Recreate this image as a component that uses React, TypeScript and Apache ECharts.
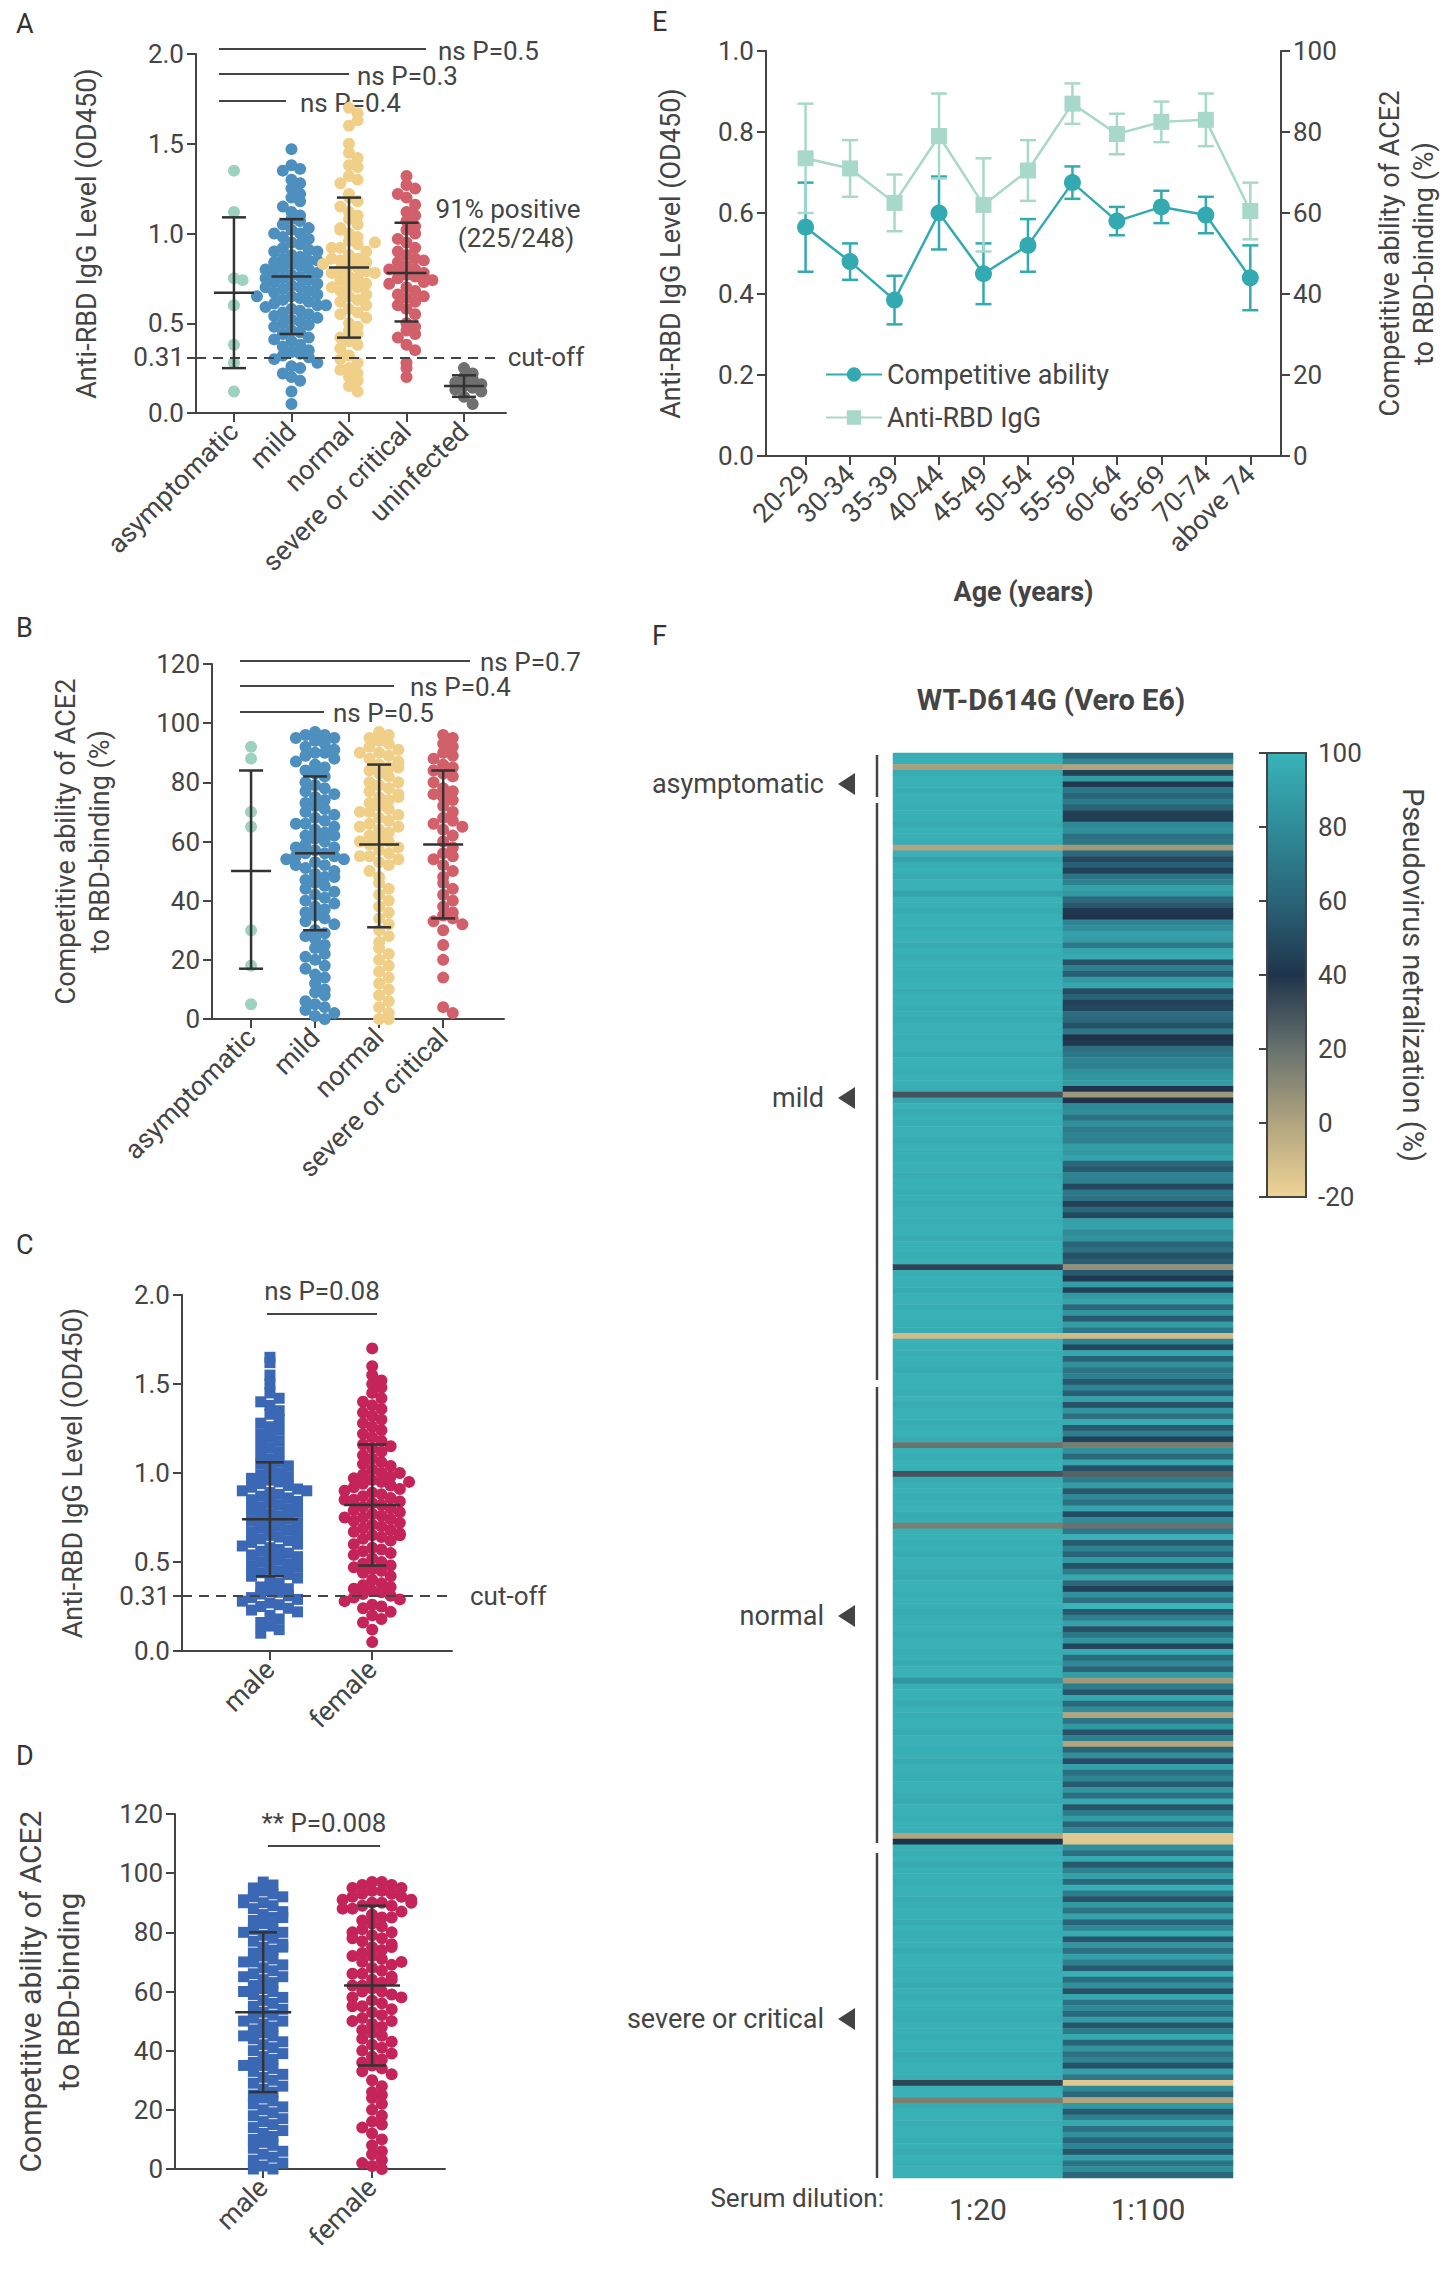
import React, { useEffect, useRef } from "react";
import * as echarts from "echarts";

// ---------- Panel A (Anti-RBD IgG, OD450) ----------
const groupsA = ["asymptomatic", "mild", "normal", "severe or critical", "uninfected"];
const colorsA = ["#9dd1c0", "#4d8fbf", "#f0cf88", "#d2606b", "#6f6f6f"];
const A_asym = [1.35, 1.12, 0.75, 0.74, 0.6, 0.38, 0.28, 0.12];
const A_mild = [1.47, 1.38, 1.36, 1.35, 1.3, 1.28, 1.25, 1.22, 1.2, 1.18, 1.15, 1.12, 1.1, 1.08, 1.07, 1.05, 1.03, 1.02, 1.0, 0.98, 0.97, 0.95, 0.94, 0.92, 0.91, 0.9, 0.88, 0.87, 0.86, 0.85, 0.84, 0.83, 0.82, 0.81, 0.8, 0.79, 0.78, 0.77, 0.76, 0.75, 0.74, 0.73, 0.72, 0.71, 0.7, 0.69, 0.68, 0.67, 0.66, 0.65, 0.64, 0.63, 0.62, 0.61, 0.6, 0.59, 0.58, 0.57, 0.56, 0.55, 0.54, 0.53, 0.52, 0.51, 0.5, 0.49, 0.48, 0.46, 0.45, 0.44, 0.42, 0.41, 0.4, 0.38, 0.37, 0.35, 0.34, 0.33, 0.32, 0.31, 0.3, 0.28, 0.26, 0.25, 0.22, 0.2, 0.18, 0.12, 0.05, 0.9, 0.8, 0.7, 0.6, 1.0, 0.85, 0.75, 0.65];
const A_normal = [1.7, 1.67, 1.6, 1.63, 1.5, 1.45, 1.42, 1.38, 1.37, 1.32, 1.3, 1.28, 1.22, 1.2, 1.18, 1.15, 1.12, 1.1, 1.08, 1.05, 1.03, 1.0, 0.98, 0.96, 0.94, 0.92, 0.9, 0.88, 0.86, 0.85, 0.84, 0.82, 0.81, 0.8, 0.79, 0.78, 0.76, 0.75, 0.74, 0.72, 0.71, 0.7, 0.68, 0.66, 0.65, 0.63, 0.62, 0.6, 0.58, 0.56, 0.55, 0.53, 0.5, 0.48, 0.46, 0.44, 0.42, 0.4, 0.38, 0.36, 0.32, 0.28, 0.25, 0.22, 0.2, 0.18, 0.15, 0.12, 0.92, 0.86, 0.78, 0.7, 0.95, 0.83, 1.02, 0.3, 0.24];
const A_severe = [1.32, 1.27, 1.25, 1.22, 1.2, 1.16, 1.12, 1.1, 1.07, 1.04, 1.02, 1.0, 0.97, 0.95, 0.92, 0.9, 0.88, 0.86, 0.84, 0.82, 0.8, 0.79, 0.78, 0.77, 0.76, 0.75, 0.73, 0.72, 0.7, 0.68, 0.66, 0.64, 0.62, 0.6, 0.58, 0.55, 0.5, 0.48, 0.46, 0.44, 0.42, 0.38, 0.35, 0.28, 0.25, 0.2, 0.85, 0.8, 0.74, 0.65];
const A_uninf = [0.25, 0.22, 0.2, 0.19, 0.17, 0.16, 0.15, 0.14, 0.13, 0.12, 0.09, 0.05];
const A_stats = [[0.67, 0.25, 1.09], [0.76, 0.44, 1.08], [0.81, 0.42, 1.2], [0.78, 0.51, 1.06], [0.15, 0.09, 0.21]];

// ---------- Panel B (competitive ability, %) ----------
const groupsB = ["asymptomatic", "mild", "normal", "severe or critical"];
const B_asym = [92, 88, 70, 65, 30, 18, 5];
const B_mild = [97, 96, 96, 95, 95, 94, 93, 92, 91, 90, 90, 89, 88, 87, 86, 85, 84, 83, 82, 80, 79, 78, 77, 76, 75, 74, 73, 72, 71, 70, 69, 68, 67, 66, 65, 64, 63, 62, 61, 60, 59, 58, 57, 56, 56, 55, 55, 54, 54, 53, 52, 51, 50, 49, 48, 47, 46, 45, 44, 43, 42, 41, 40, 39, 38, 37, 36, 35, 34, 33, 32, 30, 29, 28, 27, 25, 24, 22, 21, 20, 18, 17, 15, 14, 12, 10, 9, 8, 6, 5, 4, 3, 2, 1, 0, 58, 52, 48, 62, 66];
const B_normal = [97, 96, 95, 94, 93, 92, 91, 90, 89, 88, 87, 86, 85, 84, 83, 82, 80, 79, 78, 77, 76, 75, 74, 73, 72, 71, 70, 69, 68, 67, 66, 65, 64, 63, 62, 61, 60, 59, 58, 57, 56, 55, 54, 53, 52, 50, 48, 46, 44, 42, 40, 38, 36, 34, 32, 30, 28, 26, 24, 22, 20, 18, 16, 14, 12, 10, 8, 6, 4, 2, 0, 0, 70, 65, 60, 55, 75, 80, 85, 90];
const B_severe = [96, 95, 93, 92, 90, 89, 88, 86, 85, 84, 83, 82, 80, 78, 77, 76, 75, 74, 72, 70, 68, 67, 66, 65, 64, 62, 60, 58, 56, 55, 54, 52, 50, 48, 46, 44, 42, 40, 38, 36, 35, 34, 33, 32, 30, 25, 20, 14, 4, 2];
const B_stats = [[50, 17, 84], [56, 30, 82], [59, 31, 86], [59, 34, 84]];

// ---------- Panels C and D (sex) ----------
const sexes = ["male", "female"];
const sexColors = ["#3b68b5", "#c42459"];
const C_male = [1.65, 1.62, 1.55, 1.5, 1.45, 1.42, 1.4, 1.38, 1.35, 1.33, 1.3, 1.28, 1.26, 1.24, 1.22, 1.2, 1.18, 1.16, 1.14, 1.12, 1.1, 1.08, 1.06, 1.05, 1.04, 1.02, 1.0, 0.99, 0.98, 0.97, 0.96, 0.95, 0.94, 0.93, 0.92, 0.91, 0.9, 0.89, 0.88, 0.87, 0.86, 0.85, 0.84, 0.83, 0.82, 0.81, 0.8, 0.79, 0.78, 0.77, 0.76, 0.75, 0.74, 0.73, 0.72, 0.71, 0.7, 0.69, 0.68, 0.67, 0.66, 0.65, 0.64, 0.63, 0.62, 0.61, 0.6, 0.59, 0.58, 0.57, 0.56, 0.55, 0.54, 0.53, 0.52, 0.51, 0.5, 0.49, 0.48, 0.47, 0.46, 0.45, 0.44, 0.43, 0.42, 0.41, 0.4, 0.38, 0.36, 0.35, 0.34, 0.33, 0.32, 0.31, 0.3, 0.29, 0.28, 0.27, 0.26, 0.25, 0.24, 0.23, 0.22, 0.2, 0.18, 0.16, 0.14, 0.12, 0.1, 0.9];
const C_female = [1.7, 1.6, 1.55, 1.52, 1.5, 1.48, 1.45, 1.42, 1.4, 1.38, 1.36, 1.34, 1.32, 1.3, 1.28, 1.26, 1.24, 1.22, 1.2, 1.18, 1.16, 1.15, 1.14, 1.12, 1.1, 1.08, 1.06, 1.05, 1.04, 1.02, 1.0, 0.99, 0.98, 0.97, 0.96, 0.95, 0.94, 0.93, 0.92, 0.91, 0.9, 0.89, 0.88, 0.87, 0.86, 0.85, 0.84, 0.83, 0.82, 0.81, 0.8, 0.79, 0.78, 0.77, 0.76, 0.75, 0.74, 0.73, 0.72, 0.71, 0.7, 0.69, 0.68, 0.67, 0.66, 0.65, 0.64, 0.63, 0.62, 0.6, 0.58, 0.57, 0.56, 0.55, 0.54, 0.52, 0.5, 0.49, 0.48, 0.47, 0.46, 0.45, 0.44, 0.42, 0.4, 0.38, 0.37, 0.36, 0.35, 0.34, 0.33, 0.32, 0.31, 0.3, 0.29, 0.28, 0.26, 0.25, 0.24, 0.22, 0.2, 0.18, 0.16, 0.12, 0.05, 0.95, 0.85, 0.75, 0.65, 1.0];
const C_stats = [[0.74, 0.42, 1.06], [0.82, 0.48, 1.16]];
const D_male = [97, 96, 95, 94, 93, 92, 92, 91, 90, 89, 88, 87, 86, 85, 84, 83, 82, 81, 80, 79, 78, 77, 76, 75, 74, 73, 72, 71, 70, 69, 68, 67, 66, 65, 64, 63, 62, 61, 60, 59, 58, 57, 56, 55, 54, 53, 52, 51, 50, 49, 48, 47, 46, 45, 44, 43, 42, 41, 40, 39, 38, 37, 36, 35, 34, 33, 32, 31, 30, 29, 28, 27, 26, 25, 24, 23, 22, 21, 20, 19, 18, 17, 16, 15, 14, 13, 12, 11, 10, 9, 8, 7, 6, 5, 4, 3, 2, 1, 0, 0, 90, 85, 80, 75, 70, 65, 60, 50, 45, 35];
const D_female = [97, 97, 96, 96, 95, 95, 94, 94, 93, 93, 92, 92, 91, 91, 90, 90, 89, 89, 88, 87, 86, 85, 84, 83, 82, 81, 80, 79, 78, 77, 76, 75, 74, 73, 72, 71, 70, 69, 68, 67, 66, 65, 64, 63, 62, 61, 60, 60, 59, 58, 57, 56, 55, 54, 53, 52, 51, 50, 49, 48, 47, 46, 45, 44, 43, 42, 41, 40, 39, 38, 37, 36, 35, 34, 33, 32, 30, 28, 26, 25, 24, 22, 20, 18, 16, 15, 14, 12, 10, 8, 6, 5, 3, 2, 1, 0, 88, 85, 80, 78, 75, 72, 70, 66, 64, 62, 58, 55, 50, 90];
const D_stats = [[53, 26, 80], [62, 35, 89]];

// ---------- Panel E (age) ----------
const ages = ["20-29", "30-34", "35-39", "40-44", "45-49", "50-54", "55-59", "60-64", "65-69", "70-74", "above 74"];
const compMean = [56.5, 48, 38.5, 60, 45, 52, 67.5, 58, 61.5, 59.5, 44];
const compErr = [11, 4.5, 6, 9, 7.5, 6.5, 4, 3.5, 4, 4.5, 8];
const igMean = [0.735, 0.71, 0.625, 0.79, 0.62, 0.705, 0.87, 0.795, 0.825, 0.83, 0.605];
const igErr = [0.135, 0.07, 0.07, 0.105, 0.115, 0.075, 0.05, 0.05, 0.05, 0.065, 0.07];

// ---------- Panel F (heatmap) ----------
const dilutions = ["1:20", "1:100"];
const f_asym_20 = [97, 98, 2, 96, 99, 98, 97, 99];
const f_asym_100 = [62, 78, 0, 45, 88, 42, 70, 60];
const f_mild_20 = [98, 97, 99, 98, 96, 99, 98, 97, 0, 98, 92, 97, 98, 96, 99, 98, 92, 99, 98, 96, 98, 99, 97, 98, 99, 96, 98, 97, 99, 98, 97, 98, 99, 96, 98, 99, 97, 98, 96, 99, 98, 97, 99, 98, 96, 99, 98, 97, 99, 98, 97, 30, 92, 99, 96, 98, 97, 99, 98, 96, 99, 98, 97, 99, 98, 96, 98, 99, 97, 98, 96, 99, 98, 97, 99, 98, 96, 98, 99, 97, 98, 35, 97, 99, 98, 96, 99, 98, 97, 99, 98, 97, 96, -10, 99, 98, 97, 99, 98, 96, 99, 98];
const f_mild_100 = [72, 60, 45, 44, 78, 82, 66, 70, 5, 62, 48, 58, 46, 68, 75, 90, 86, 62, 55, 42, 40, 76, 80, 90, 88, 70, 92, 95, 52, 74, 58, 86, 94, 50, 60, 45, 48, 64, 62, 52, 70, 40, 42, 66, 70, 76, 74, 82, 85, 88, 40, 5, 40, 78, 80, 66, 82, 72, 76, 74, 88, 86, 92, 62, 56, 76, 74, 48, 70, 66, 45, 62, 48, 90, 92, 80, 84, 60, 66, 52, 58, 8, 55, 42, 88, 46, 86, 92, 62, 84, 56, 88, 70, -10, 76, 48, 94, 60, 82, 68, 74, 56];
const f_normal_20 = [98, 97, 99, 96, 98, 99, 97, 98, 99, 96, 20, 98, 97, 99, 98, 30, 96, 98, 99, 97, 98, 99, 96, 97, 15, 98, 99, 97, 98, 96, 99, 98, 97, 96, 99, 98, 97, 99, 98, 96, 97, 98, 99, 96, 98, 99, 97, 98, 96, 99, 98, 85, 97, 99, 98, 96, 99, 97, 98, 99, 96, 98, 99, 97, 98, 96, 99, 98, 97, 99, 98, 97, 96, 99, 98, 97, 99, 98, 0, 40];
const f_normal_100 = [76, 58, 90, 52, 84, 66, 96, 56, 74, 46, 15, 82, 62, 94, 52, 25, 72, 88, 54, 78, 66, 92, 50, 80, 20, 70, 98, 56, 75, 60, 86, 52, 72, 95, 62, 46, 82, 66, 100, 56, 74, 90, 52, 70, 84, 48, 96, 64, 78, 60, 88, 5, 72, 54, 94, 62, 80, 0, 68, 86, 52, 74, 0, 60, 82, 50, 90, 66, 76, 56, 84, 66, 95, 54, 72, 88, 60, 78, -15, -15];
const f_severe_20 = [98, 97, 99, 96, 98, 99, 97, 98, 99, 96, 97, 99, 98, 96, 99, 97, 98, 99, 96, 98, 99, 98, 97, 99, 96, 98, 97, 99, 98, 97, 96, 99, 98, 97, 99, 98, 96, 97, 99, 98, 97, 35, 98, 99, 15, 96, 98, 99, 97, 98, 99, 97, 98, 96, 99, 97, 98, 99];
const f_severe_100 = [82, 65, 95, 56, 74, 90, 62, 98, 72, 52, 86, 68, 92, 60, 78, 96, 54, 84, 66, 90, 74, 56, 98, 64, 82, 52, 94, 68, 78, 62, 88, 54, 72, 95, 60, 84, 66, 76, 52, 90, 70, -15, 78, 62, 0, 86, 56, 74, 94, 66, 82, 60, 76, 54, 90, 68, 80, 62];
const cbarColors = ["#efd495", "#b1a47f", "#68726e", "#1f344b", "#2a6478", "#2f8c98", "#3ab3b9"];

const FONT = "Roboto";
const TXT = "#444";
const AX = "#444";

function swarm(vals: number[], cx: number, bin: number, d: number) {
  const cnt: Record<number, number> = {};
  return vals.map((v) => {
    const k = Math.round(v / bin);
    const n = cnt[k] || 0;
    cnt[k] = n + 1;
    const off = n === 0 ? 0 : (n % 2 ? 1 : -1) * Math.ceil(n / 2);
    return [cx + off * d, v];
  });
}

function errItem(capHalf: number, meanHalf: number, color: string) {
  return (params: any, api: any) => {
    const x = api.value(0);
    const m = api.coord([x, api.value(1)]);
    const lo = api.coord([x, api.value(2)]);
    const hi = api.coord([x, api.value(3)]);
    const st = { stroke: color, lineWidth: 2.5 };
    const ch: any[] = [
      { type: "line", shape: { x1: lo[0], y1: lo[1], x2: hi[0], y2: hi[1] }, style: st },
      { type: "line", shape: { x1: lo[0] - capHalf, y1: lo[1], x2: lo[0] + capHalf, y2: lo[1] }, style: st },
      { type: "line", shape: { x1: hi[0] - capHalf, y1: hi[1], x2: hi[0] + capHalf, y2: hi[1] }, style: st },
    ];
    if (meanHalf > 0) ch.push({ type: "line", shape: { x1: m[0] - meanHalf, y1: m[1], x2: m[0] + meanHalf, y2: m[1] }, style: st });
    return { type: "group", children: ch };
  };
}

function yAx(grid: number, min: number, max: number, interval: number, name: string, gap: number, extra: any = {}) {
  return {
    type: "value", gridIndex: grid, min, max, interval, name, nameLocation: "middle", nameGap: gap,
    nameTextStyle: { fontSize: 27, color: TXT, fontFamily: FONT, lineHeight: 34 },
    axisLine: { show: true, onZero: false, lineStyle: { color: AX, width: 2 } },
    axisTick: { show: true, length: 9, lineStyle: { color: AX, width: 2 } },
    axisLabel: { fontSize: 26, color: TXT, fontFamily: FONT, margin: 12 },
    splitLine: { show: false }, ...extra,
  };
}

function xAx(grid: number, min: number, max: number, names: string[], extra: any = {}) {
  const vals = names.map((_, i) => i);
  return {
    type: "value", gridIndex: grid, min, max,
    axisLine: { show: true, onZero: false, lineStyle: { color: AX, width: 2 } },
    axisTick: { show: true, length: 9, customValues: vals, lineStyle: { color: AX, width: 2 } },
    axisLabel: { fontSize: 27, color: TXT, fontFamily: FONT, rotate: 45, margin: 14, customValues: vals, formatter: (v: number) => names[Math.round(v)] ?? "" },
    splitLine: { show: false }, ...extra,
  };
}

export default function App() {
  const ref = useRef<HTMLDivElement>(null);
  useEffect(() => {
    document.body.style.margin = "0";
    const chart = echarts.init(ref.current!, undefined, { renderer: "svg" });

    const series: any[] = [];
    const scat = (data: number[][], xi: number, yi: number, color: string, symbol = "circle", size = 12) => ({
      type: "scatter", xAxisIndex: xi, yAxisIndex: yi, data, symbol, symbolSize: size,
      itemStyle: { color, opacity: 1 }, z: 2,
    });
    const err = (stats: number[][], xi: number, yi: number, cap: number, mh: number) => ({
      type: "custom", xAxisIndex: xi, yAxisIndex: yi, z: 5,
      data: stats.map((s, i) => [i, s[0], s[1], s[2]]), encode: { x: 0, y: [1, 2, 3] },
      renderItem: errItem(cap, mh, "#333"),
    });
    const cutoff = (x0: number, x1: number, dist: number) => ({
      silent: true, symbol: "none", animation: false,
      lineStyle: { color: "#444", type: [10, 7], width: 2 },
      label: { show: true, position: "end", formatter: "cut-off", fontSize: 26, color: TXT, fontFamily: FONT, distance: dist },
      data: [[{ coord: [x0, 0.31] }, { coord: [x1, 0.31] }]],
    });

    // A
    [A_asym, A_mild, A_normal, A_severe, A_uninf].forEach((g, i) => {
      const s: any = scat(swarm(g, i, 0.062, 0.15), 0, 0, colorsA[i]);
      if (i === 0) s.markLine = cutoff(-0.66, 4.55, 12);
      series.push(s);
    });
    series.push(err(A_stats, 0, 0, 12, 20));
    // B
    [B_asym, B_mild, B_normal, B_severe].forEach((g, i) => series.push(scat(swarm(g, i, 3.7, 0.15), 1, 1, colorsA[i])));
    series.push(err(B_stats, 1, 1, 12, 20));
    // C
    const cm: any = scat(swarm(C_male, 0, 0.062, 0.09), 2, 2, sexColors[0], "rect", 11);
    cm.markLine = cutoff(-0.86, 1.78, 18);
    series.push(cm);
    series.push(scat(swarm(C_female, 1, 0.062, 0.09), 2, 2, sexColors[1]));
    series.push(err(C_stats, 2, 2, 14, 28));
    // D
    series.push(scat(swarm(D_male, 0, 3.7, 0.09), 3, 3, sexColors[0], "rect", 11));
    series.push(scat(swarm(D_female, 1, 3.7, 0.09), 3, 3, sexColors[1]));
    series.push(err(D_stats, 3, 3, 14, 28));
    // E
    const compC = "#33aab1";
    const igC = "#a7d8ca";
    series.push({
      type: "custom", xAxisIndex: 4, yAxisIndex: 5, z: 1,
      data: compMean.map((m, i) => [i, m, m - compErr[i], m + compErr[i]]), encode: { x: 0, y: [1, 2, 3] },
      renderItem: errItem(8, 0, compC),
    });
    series.push({
      type: "custom", xAxisIndex: 4, yAxisIndex: 4, z: 1,
      data: igMean.map((m, i) => [i, m, m - igErr[i], m + igErr[i]]), encode: { x: 0, y: [1, 2, 3] },
      renderItem: errItem(8, 0, igC),
    });
    series.push({
      type: "line", name: "Competitive ability", xAxisIndex: 4, yAxisIndex: 5, z: 3,
      data: compMean.map((m, i) => [i, m]), symbol: "circle", symbolSize: 17,
      lineStyle: { color: compC, width: 2.5 }, itemStyle: { color: compC },
    });
    series.push({
      type: "line", name: "Anti-RBD IgG", xAxisIndex: 4, yAxisIndex: 4, z: 2,
      data: igMean.map((m, i) => [i, m]), symbol: "rect", symbolSize: 16,
      lineStyle: { color: igC, width: 2.5 }, itemStyle: { color: igC },
    });
    // F heatmap
    const c20 = [...f_asym_20, ...f_mild_20, ...f_normal_20, ...f_severe_20];
    const c100 = [...f_asym_100, ...f_mild_100, ...f_normal_100, ...f_severe_100];
    const rows = c20.map((_, i) => String(i));
    const hdata: number[][] = [];
    c20.forEach((v, i) => hdata.push([0, i, v]));
    c100.forEach((v, i) => hdata.push([1, i, v]));
    const heatIndex = series.length;
    series.push({ type: "heatmap", xAxisIndex: 5, yAxisIndex: 6, data: hdata, itemStyle: { borderWidth: 0 } });
    series.push({
      type: "custom", xAxisIndex: 6, yAxisIndex: 7, data: [[0, 0]],
      renderItem: (params: any) => {
        const cs = params.coordSys;
        return {
          type: "rect", shape: { x: cs.x, y: cs.y, width: cs.width, height: cs.height },
          style: {
            stroke: "#444", lineWidth: 2,
            fill: new echarts.graphic.LinearGradient(0, 1, 0, 0, cbarColors.map((c, i) => ({ offset: i / (cbarColors.length - 1), color: c }))),
          },
        };
      },
    });

    // graphic annotations
    const T = (text: string, x: number, y: number, o: any = {}) => ({
      type: "text", x, y, style: { text, fontSize: 26, fill: TXT, fontFamily: FONT, textVerticalAlign: "middle", ...o },
    });
    const L = (x1: number, y1: number, x2: number, y2: number) => ({
      type: "line", shape: { x1, y1, x2, y2 }, style: { stroke: "#444", lineWidth: 2 },
    });
    const letters = [["A", 16, 24], ["B", 16, 628], ["C", 16, 1245], ["D", 16, 1756], ["E", 652, 22], ["F", 652, 636]];
    const g: any[] = letters.map(([t, x, y]) => T(t as string, x as number, y as number, { fontSize: 27, fill: "#333" }));
    g.push(L(219, 49, 426, 49), T("ns P=0.5", 438, 51));
    g.push(L(219, 74, 349, 74), T("ns P=0.3", 357, 76));
    g.push(L(219, 101, 286, 101), T("ns P=0.4", 300, 103));
    g.push(T("91% positive", 508, 209, { textAlign: "center" }), T("(225/248)", 516, 238, { textAlign: "center" }));
    g.push(L(240, 661, 470, 661), T("ns P=0.7", 480, 662));
    g.push(L(240, 686, 394, 686), T("ns P=0.4", 410, 687));
    g.push(L(240, 712, 324, 712), T("ns P=0.5", 333, 713));
    g.push(L(267, 1314, 377, 1314), T("ns P=0.08", 322, 1291, { textAlign: "center" }));
    g.push(L(268, 1846, 380, 1846), T("** P=0.008", 324, 1823, { textAlign: "center" }));
    g.push(T("WT-D614G (Vero E6)", 1051, 700, { textAlign: "center", fontSize: 29, fontWeight: "bold", fill: "#444" }));
    const labelsF = [["asymptomatic", 784], ["mild", 1098], ["normal", 1616], ["severe or critical", 2019]];
    labelsF.forEach(([t, y]) => {
      g.push(T(t as string, 824, y as number, { textAlign: "right", fontSize: 27 }));
      g.push({ type: "polygon", shape: { points: [[855, (y as number) - 11], [855, (y as number) + 11], [838, y as number]] }, style: { fill: "#444" } });
    });
    [[755, 797], [803, 1380], [1387, 1843], [1853, 2178]].forEach(([a, b]) => g.push({ ...L(877, a, 877, b), style: { stroke: "#444", lineWidth: 2.5 } }));
    g.push(T("Serum dilution:", 884, 2198, { textAlign: "right", fontSize: 26 }));

    const odLabels = { fontSize: 26, color: TXT, fontFamily: FONT, margin: 12, customValues: [0, 0.31, 0.5, 1, 1.5, 2], formatter: (v: number) => (v === 0.31 ? "0.31" : v.toFixed(1)) };
    const odTicks = { show: true, length: 9, customValues: [0, 0.31, 0.5, 1, 1.5, 2], lineStyle: { color: AX, width: 2 } };

    chart.setOption({
      animation: false,
      textStyle: { fontFamily: FONT },
      legend: {
        show: true, left: 820, top: 356, orient: "vertical", itemGap: 16, itemWidth: 56, itemHeight: 18,
        textStyle: { fontSize: 27, color: TXT, fontFamily: FONT },
        data: ["Competitive ability", "Anti-RBD IgG"],
      },
      visualMap: { type: "continuous", show: false, min: -20, max: 100, seriesIndex: heatIndex, inRange: { color: cbarColors } },
      grid: [
        { left: 196, top: 54, width: 310, height: 359 },
        { left: 212, top: 664, width: 292, height: 355 },
        { left: 182, top: 1295, width: 270, height: 356 },
        { left: 175, top: 1814, width: 270, height: 355 },
        { left: 766, top: 51, width: 522, height: 405 },
        { left: 893, top: 753, width: 340, height: 1425 },
        { left: 1267, top: 753, width: 39, height: 444 },
      ],
      xAxis: [
        xAx(0, -0.66, 4.73, groupsA),
        xAx(1, -0.61, 3.95, groupsB),
        xAx(2, -0.86, 1.78, sexes),
        xAx(3, -0.81, 1.67, sexes),
        xAx(4, -0.89, 10.69, ages, { name: "Age (years)", nameLocation: "middle", nameGap: 122, nameTextStyle: { fontSize: 27, fontWeight: "bold", color: TXT, fontFamily: FONT } }),
        { type: "category", gridIndex: 5, data: dilutions, axisLine: { show: false }, axisTick: { show: false }, axisLabel: { fontSize: 30, color: TXT, fontFamily: FONT, margin: 16 } },
        { type: "value", gridIndex: 6, show: false, min: 0, max: 1 },
      ],
      yAxis: [
        yAx(0, 0, 2, 0.5, "Anti-RBD IgG Level (OD450)", 92, { axisLabel: odLabels, axisTick: odTicks }),
        yAx(1, 0, 120, 20, "Competitive ability of ACE2\nto RBD-binding (%)", 95),
        yAx(2, 0, 2, 0.5, "Anti-RBD IgG Level (OD450)", 92, { axisLabel: odLabels, axisTick: odTicks }),
        yAx(3, 0, 120, 20, "Competitive ability of ACE2\nto RBD-binding", 88, { nameTextStyle: { fontSize: 30, color: TXT, fontFamily: FONT, lineHeight: 38 } }),
        yAx(4, 0, 1, 0.2, "Anti-RBD IgG Level (OD450)", 78, { axisLabel: { fontSize: 26, color: TXT, fontFamily: FONT, margin: 12, formatter: (v: number) => v.toFixed(1) } }),
        yAx(4, 0, 100, 20, "Competitive ability of ACE2\nto RBD-binding (%)", 92, { position: "right", nameRotate: 90 }),
        { type: "category", gridIndex: 5, data: rows, inverse: true, show: false },
        yAx(6, -20, 100, 20, "Pseudovirus netralization (%)", 92, {
          position: "right", nameRotate: -90,
          axisLine: { show: false }, axisTick: { show: true, inside: true, length: 8, lineStyle: { color: AX, width: 2 } },
          nameTextStyle: { fontSize: 29, color: TXT, fontFamily: FONT },
        }),
      ],
      series,
      graphic: g,
    });
    return () => chart.dispose();
  }, []);
  return <div ref={ref} style={{ width: 1442, height: 2286, background: "#fff" }} />;
}
